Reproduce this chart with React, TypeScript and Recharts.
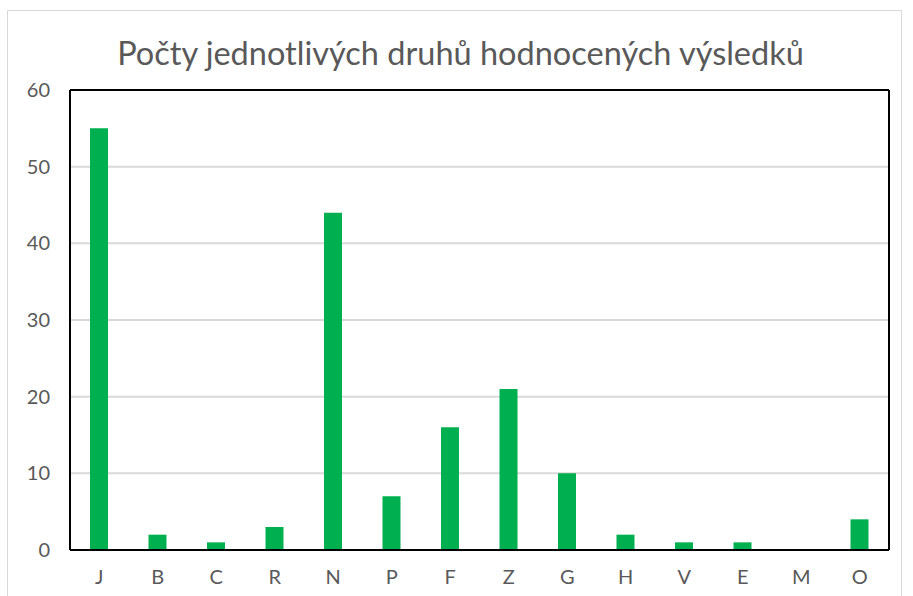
import { BarChart, Bar, XAxis, YAxis, CartesianGrid } from 'recharts';

const categories = ['J', 'B', 'C', 'R', 'N', 'P', 'F', 'Z', 'G', 'H', 'V', 'E', 'M', 'O'];
const counts = [55, 2, 1, 3, 44, 7, 16, 21, 10, 2, 1, 1, 0, 4];
const yTicks = [0, 10, 20, 30, 40, 50, 60];

const data = categories.map((name, i) => ({ name, count: counts[i] }));

const FONT = 'Lato, "Open Sans", sans-serif';
const TEXT_COLOR = '#595959';

function App() {
  return (
    <div style={{ position: 'absolute', left: 0, top: 0, width: 913, height: 596, background: '#fff', overflow: 'hidden' }}>
      <div
        style={{
          position: 'absolute',
          left: 7,
          top: 10,
          width: 893,
          height: 600,
          border: '1px solid #D9D9D9',
        }}
      />
      <div
        style={{
          position: 'absolute',
          left: 0,
          top: 33,
          width: 921,
          textAlign: 'center',
          fontFamily: FONT,
          fontSize: 32.5,
          lineHeight: '40px',
          color: TEXT_COLOR,
        }}>
        Počty jednotlivých druhů hodnocených výsledků
      </div>
      <BarChart
        width={913}
        height={596}
        data={data}
        margin={{ top: 89, right: 23, bottom: 0, left: 10 }}
        barCategoryGap={0}
        style={{ position: 'absolute', left: 0, top: 0 }}>
        <CartesianGrid vertical={false} stroke="#D9D9D9" strokeWidth={2} yAxisId="left" />
        <XAxis
          dataKey="name"
          xAxisId="bottom"
          axisLine={{ stroke: '#000', strokeWidth: 2 }}
          tickLine={false}
          tickMargin={14}
          height={46}
          tick={{ fill: TEXT_COLOR, fontSize: 20, fontFamily: FONT }}
        />
        <XAxis
          dataKey="name"
          xAxisId="top"
          orientation="top"
          axisLine={{ stroke: '#000', strokeWidth: 2 }}
          tickLine={false}
          tick={false}
          height={1}
        />
        <YAxis
          yAxisId="left"
          domain={[0, 60]}
          ticks={yTicks}
          axisLine={{ stroke: '#000', strokeWidth: 2 }}
          tickLine={false}
          tickSize={0}
          tickMargin={20}
          width={60}
          tick={{ fill: TEXT_COLOR, fontSize: 20, fontFamily: FONT }}
        />
        <YAxis
          yAxisId="right"
          orientation="right"
          domain={[0, 60]}
          axisLine={{ stroke: '#000', strokeWidth: 2 }}
          tickLine={false}
          tick={false}
          width={1}
        />
        <Bar
          dataKey="count"
          xAxisId="bottom"
          yAxisId="left"
          fill="#00B050"
          barSize={18}
          isAnimationActive={false}
        />
      </BarChart>
    </div>
  );
}

export default App;
